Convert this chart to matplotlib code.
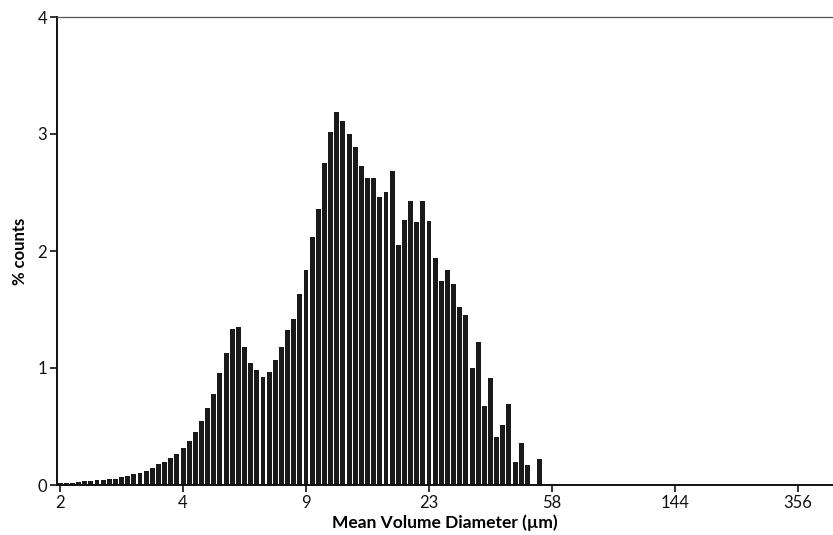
import matplotlib.pyplot as plt
import numpy as np

plt.rcParams['font.family'] = ['Lato', 'DejaVu Sans']

# --- data: % counts per size bin (bin index 0 = 2 µm)
counts = [
    0.014, 0.017, 0.020, 0.023, 0.030, 0.032, 0.040, 0.042, 0.050, 0.055,
    0.065, 0.077, 0.090, 0.103, 0.120, 0.142, 0.176, 0.200, 0.233, 0.268,
    0.320, 0.380, 0.450, 0.550, 0.660, 0.775, 0.955, 1.125, 1.330, 1.353,
    1.180, 1.040, 0.980, 0.926, 0.968, 1.070, 1.180, 1.325, 1.416, 1.635,
    1.838, 2.117, 2.362, 2.750, 3.017, 3.185, 3.110, 2.997, 2.890, 2.730,
    2.620, 2.624, 2.460, 2.507, 2.684, 2.050, 2.262, 2.430, 2.250, 2.430,
    2.260, 1.943, 1.746, 1.840, 1.720, 1.520, 1.456, 1.000, 1.225, 0.675,
    0.917, 0.407, 0.513, 0.690, 0.194, 0.356, 0.171, 0.000, 0.220,
]
tick_bins = [0, 20, 40, 60, 80, 100, 120]
tick_labels = ['2', '4', '9', '23', '58', '144', '356']
y_ticks = [0, 1, 2, 3, 4]

fig = plt.figure(figsize=(8.33, 5.35), dpi=100)
ax = fig.add_axes([57 / 833, 50 / 535, 776 / 833, 468 / 535])

ax.bar(np.arange(len(counts)), counts, width=0.8, color='#1a1a1a', edgecolor='none')

ax.set_xlim(-0.5, 125.7)
ax.set_ylim(0, 4)
ax.set_xticks(tick_bins)
ax.set_xticklabels(tick_labels)
ax.set_yticks(y_ticks)

ax.spines['right'].set_visible(False)
ax.spines['top'].set_color('#555555')
ax.spines['top'].set_linewidth(0.9)
for s in ['left', 'bottom']:
    ax.spines[s].set_linewidth(1.4)
    ax.spines[s].set_color('#111111')

ax.tick_params(axis='both', direction='out', length=5, width=1.2, labelsize=12, colors='#111111', pad=2)

ax.set_xlabel('Mean Volume Diameter (µm)', fontsize=12.5, fontweight='bold', labelpad=3)
ax.set_ylabel('% counts', fontsize=12, fontweight='bold', labelpad=7)

plt.savefig('out.png', dpi=100)
